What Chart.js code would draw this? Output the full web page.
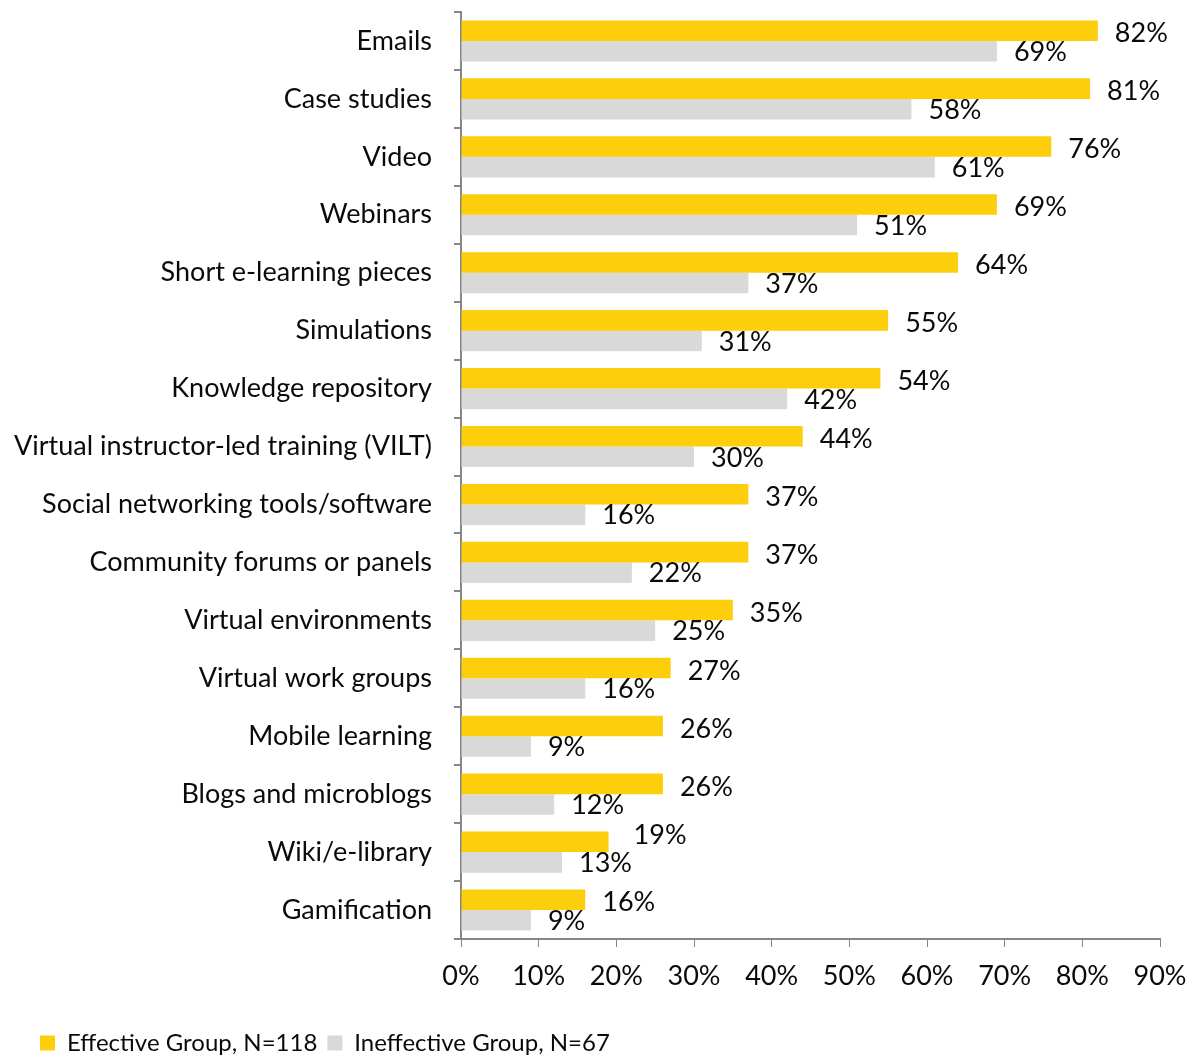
<!DOCTYPE html>
<html>
<head>
<meta charset="utf-8">
<script src="https://cdn.jsdelivr.net/npm/chart.js@4/dist/chart.umd.min.js"></script>
<style>
  html, body { margin: 0; padding: 0; background: #fff; }
  #wrap { width: 1193px; height: 1055px; position: relative; }
</style>
</head>
<body>
<div id="wrap"><canvas id="chart"></canvas></div>
<script>
// --- dados ---
const categories = [
  'Emails', 'Case studies', 'Video', 'Webinars', 'Short e-learning pieces',
  'Simulations', 'Knowledge repository', 'Virtual instructor-led training (VILT)',
  'Social networking tools/software', 'Community forums or panels',
  'Virtual environments', 'Virtual work groups', 'Mobile learning',
  'Blogs and microblogs', 'Wiki/e-library', 'Gamification'
];
const effectiveValues   = [82, 81, 76, 69, 64, 55, 54, 44, 37, 37, 35, 27, 26, 26, 19, 16];
const ineffectiveValues = [69, 58, 61, 51, 37, 31, 42, 30, 16, 22, 25, 16, 9, 12, 13, 9];
const seriesNames = ['Effective Group, N=118', 'Ineffective Group, N=67'];
const xTicks = [0, 10, 20, 30, 40, 50, 60, 70, 80, 90];

const FONT = 'Lato, "Open Sans", sans-serif';
const AXIS_COLOR = '#868686';
const TEXT_COLOR = '#0a0a0a';

// ajuste manual de rótulo que colidia (Wiki/e-library, grupo efetivo)
const labelNudge = { '0-14': [8, -10] };

// rótulos de valor ao lado de cada barra
const valueLabels = {
  id: 'valueLabels',
  afterDatasetsDraw(chart) {
    const ctx = chart.ctx;
    ctx.save();
    ctx.font = '27px ' + FONT;
    ctx.fillStyle = TEXT_COLOR;
    ctx.textAlign = 'left';
    ctx.textBaseline = 'middle';
    chart.data.datasets.forEach((ds, di) => {
      const meta = chart.getDatasetMeta(di);
      meta.data.forEach((bar, i) => {
        const [nx, ny] = labelNudge[di + '-' + i] || [0, 0];
        const dy = di === 0 ? 3 : 1;
        ctx.fillText(ds.data[i] + '%', bar.x + 17 + nx, bar.y + dy + ny);
      });
    });
    ctx.restore();
  }
};

// reposiciona a legenda (o eixo Y ocupa toda a margem esquerda)
const legendShift = {
  id: 'legendShift',
  beforeDraw(chart) {
    const lg = chart.legend;
    if (lg && !lg._shifted) {
      lg.left += 30;
      lg.top += 10;
      lg._shifted = true;
    }
  }
};

new Chart(document.getElementById('chart'), {
  type: 'bar',
  data: {
    labels: categories,
    datasets: [
      { label: seriesNames[0], data: effectiveValues, backgroundColor: '#FDCE0B',
        barPercentage: 1.0, categoryPercentage: 0.71 },
      { label: seriesNames[1], data: ineffectiveValues, backgroundColor: '#D9D9D9',
        barPercentage: 1.0, categoryPercentage: 0.71 }
    ]
  },
  options: {
    indexAxis: 'y',
    responsive: true,
    maintainAspectRatio: false,
    animation: false,
    layout: { padding: { left: 0, right: 33, top: 12, bottom: 0 } },
    scales: {
      x: {
        min: 0,
        max: 90,
        afterBuildTicks: (scale) => { scale.ticks = xTicks.map(v => ({ value: v })); },
        afterFit: (scale) => {
          scale.height = 72;
          scale.paddingLeft = 0;
          scale.paddingRight = 0;
        },
        grid: { drawOnChartArea: false, drawTicks: true, tickLength: 8, color: AXIS_COLOR },
        border: { display: true, color: AXIS_COLOR, width: 2 },
        ticks: {
          callback: (v) => v + '%',
          color: TEXT_COLOR,
          padding: 13,
          maxRotation: 0,
          font: { family: FONT, size: 27 }
        }
      },
      y: {
        afterFit: (scale) => {
          scale.width = 461;
          scale.paddingTop = 0;
          scale.paddingBottom = 0;
        },
        grid: { drawOnChartArea: false, drawTicks: true, tickLength: 7, offset: true, color: AXIS_COLOR, lineWidth: 2 },
        border: { display: true, color: AXIS_COLOR, width: 2 },
        ticks: {
          color: TEXT_COLOR,
          padding: 22,
          autoSkip: false,
          font: { family: FONT, size: 27 }
        }
      }
    },
    plugins: {
      legend: {
        position: 'bottom',
        align: 'start',
        labels: {
          boxWidth: 15,
          boxHeight: 15,
          padding: 10,
          color: TEXT_COLOR,
          font: { family: FONT, size: 24, lineHeight: 1 }
        }
      },
      tooltip: { enabled: false }
    }
  },
  plugins: [valueLabels, legendShift]
});
</script>
</body>
</html>
